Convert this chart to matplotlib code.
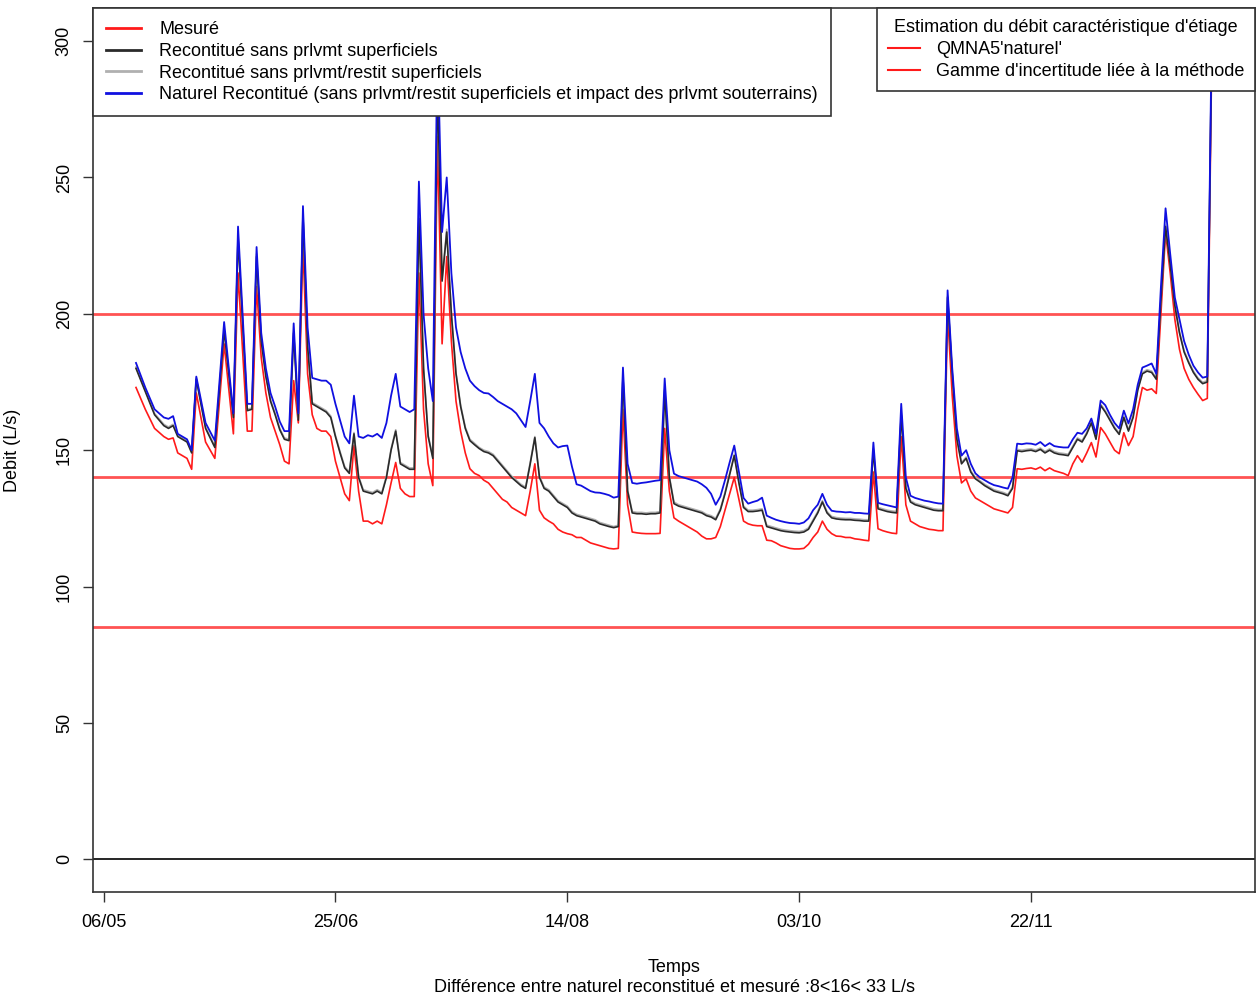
'''
Debit mesure / reconstitue / naturel, avec QMNA5 et gamme d'incertitude.
'''

import datetime as dt
import matplotlib
matplotlib.use("Agg")
import matplotlib.pyplot as plt
import matplotlib.dates as mdates
from matplotlib.lines import Line2D

plt.rcParams['font.family'] = ['Liberation Sans', 'DejaVu Sans']

# day 0 = 06/05
start = dt.datetime(2015, 5, 6)

days = ([7, 9, 11, 13, 14, 15, 16, 18, 19, 20,
         22, 24, 26, 28, 29, 31, 32, 33, 34, 35,
         36, 37, 38, 39, 40, 41, 42, 43]
        + list(range(44, 240)))

mesure = [173, 165, 158, 155, 154, 154.5, 149, 147, 143, 171,
          153, 147, 189, 156, 215, 157, 157, 210, 184, 171,
          162, 157, 152, 146, 145, 175.5, 160, 225,
          178, 163, 158, 157, 157, 155, 146, 140, 134, 131.5,
          151.7, 135, 124, 124, 123, 124, 123, 130, 138, 145.5,
          136, 134, 133, 133, 215, 165, 145, 137, 265, 189,
          221, 190, 168, 157, 149, 143.2, 141.5, 140.7, 139, 138,
          136, 134, 132, 131, 129, 128, 127, 126, 135, 145,
          128, 125.2, 124, 123, 121, 120, 119.4, 119, 118, 118,
          117, 116, 115.5, 115, 114.5, 114, 113.8, 114, 165, 130,
          120, 119.7, 119.5, 119.4, 119.4, 119.4, 119.5, 158, 135, 125.2,
          124, 123, 122, 121, 120, 118.5, 117.5, 117.5, 118, 122,
          128, 134, 140, 132, 124, 123, 122.5, 122.3, 122.3, 117,
          116.8, 116, 115, 114.5, 114, 113.8, 113.8, 114, 115.5, 118,
          120, 124, 121, 119.4, 118.5, 118.4, 118, 118, 117.5, 117.3,
          117, 116.8, 142, 121.2, 120.5, 120, 119.6, 119.4, 155, 130,
          124, 123, 122, 121.5, 121, 120.8, 120.5, 120.5, 200, 170,
          148, 138, 139.5, 135, 132.5, 131.5, 130.5, 129.5, 128.5, 128,
          127.5, 127, 129, 143.2, 143, 143.3, 143.5, 143, 143.8, 142.5,
          143.5, 142.5, 142, 141.5, 140.7, 145, 148, 145.6, 149, 152.8,
          147.5, 158.3, 156, 153, 150, 148.7, 156.4, 151.7, 155, 165,
          173, 172, 172.5, 170.8, 200, 230, 215, 198, 187, 180,
          176, 173, 170.5, 168.2, 169, 300]

sans_prlvmt = [180, 171.5, 163, 159, 158, 159, 155, 153, 149, 176,
               158, 151, 194, 162, 228, 164.5, 165, 221, 190, 177,
               168, 163, 157.5, 154, 153.5, 193, 161, 236,
               188, 167, 166, 165, 164, 162, 155, 149, 143.5, 141.5,
               156, 140, 135, 134.5, 134, 135, 134, 140, 150, 157,
               145, 144, 143, 143, 235, 180, 155, 147, 285, 212,
               230, 200, 178, 166, 158, 153.5, 152, 150.6, 149.5, 149,
               148, 146, 144, 142, 140, 138.5, 137, 136, 145, 154.6,
               140, 136, 135, 133, 131, 130, 129, 127, 126, 125.5,
               125, 124.5, 124, 123, 122.5, 122, 121.6, 122, 177, 135,
               127, 126.7, 126.7, 126.5, 126.7, 126.7, 127, 172, 140, 130.4,
               129.5, 129, 128.5, 128, 127.5, 127, 126, 125.5, 124.5, 128,
               134, 141, 148, 138, 129, 127.5, 127.5, 127.7, 128, 122,
               121.5, 121, 120.5, 120.2, 120, 119.8, 119.7, 120, 121, 124,
               127, 131, 127, 125.2, 124.8, 124.6, 124.5, 124.5, 124.3, 124.2,
               124, 124, 150, 128.5, 128, 127.5, 127.2, 127, 163, 136,
               131, 130, 129.5, 129, 128.5, 128, 127.8, 127.8, 206, 178,
               154, 145, 147, 142, 139.5, 138.3, 137, 136, 135, 134.5,
               134, 133.3, 136, 149.8, 149.5, 149.8, 150, 149.5, 150.3, 149,
               150, 149, 148.5, 148.3, 148, 151, 154, 153, 156, 160,
               154, 166.4, 164, 161, 158, 155.8, 162, 157, 162, 172,
               178, 179, 178.5, 176, 205, 232, 218, 203, 193, 186,
               182, 178.5, 176, 174.4, 175, 305]

sans_prlvmt_restit = [180.5, 172, 163.5, 159.5, 158.5, 159.5, 155.5, 153.5, 149.5, 176.5,
                      158.5, 151.5, 194.5, 162.5, 229, 165, 165.5, 222, 190.5, 177.5,
                      168.5, 163.5, 158, 154.5, 154, 193.5, 161.5, 237,
                      188.5, 167.5, 166.5, 165.5, 164.5, 162.5, 155.5, 149.5, 144, 142,
                      156.5, 140.5, 135.5, 135, 134.5, 135.5, 134.5, 140.5, 150.5, 157.5,
                      145.5, 144.5, 143.5, 143.5, 236, 180.5, 155.5, 147.5, 286, 213,
                      231, 200.5, 178.5, 166.5, 158.5, 154, 152.5, 151, 150, 149.5,
                      148.5, 146.5, 144.5, 142.5, 140.5, 139, 137.5, 136.5, 145.5, 155,
                      140.5, 136.5, 135.5, 133.5, 131.5, 130.5, 129.5, 127.5, 126.5, 126,
                      125.5, 125, 124.5, 123.5, 123, 122.5, 122, 122.5, 177.5, 135.5,
                      127.5, 127.2, 127.2, 127, 127.2, 127.2, 127.5, 172.5, 140.5, 131,
                      130, 129.5, 129, 128.5, 128, 127.5, 126.5, 126, 125, 128.5,
                      134.5, 141.5, 148.5, 138.5, 129.5, 128, 128, 128.2, 128.5, 122.5,
                      122, 121.5, 121, 120.7, 120.5, 120.3, 120.2, 120.5, 121.5, 124.5,
                      127.5, 131.5, 127.5, 125.7, 125.3, 125.1, 125, 125, 124.8, 124.7,
                      124.5, 124.5, 150.5, 129, 128.5, 128, 127.7, 127.5, 163.5, 136.5,
                      131.5, 130.5, 130, 129.5, 129, 128.5, 128.3, 128.3, 206.5, 178.5,
                      154.5, 145.5, 147.5, 142.5, 140, 138.8, 137.5, 136.5, 135.5, 135,
                      134.5, 133.8, 136.5, 150.3, 150, 150.3, 150.5, 150, 150.8, 149.5,
                      150.5, 149.5, 149, 148.8, 148.5, 151.5, 154.5, 153.5, 156.5, 160.5,
                      154.5, 166.9, 164.5, 161.5, 158.5, 156.3, 162.5, 157.5, 162.5, 172.5,
                      178.5, 179.5, 179, 176.5, 205.5, 232.5, 218.5, 203.5, 193.5, 186.5,
                      182.5, 179, 176.5, 174.9, 175.5, 305.5]

naturel = [182, 173, 165, 162, 161.5, 162.5, 156, 154, 150, 177,
           160, 153.5, 197, 163.5, 232, 167, 167, 224.5, 193, 180,
           171, 166, 160.5, 157, 157, 196.5, 163.5, 239.5,
           195, 176.5, 176, 175.5, 175.5, 174, 167, 161, 155, 152.5,
           170, 155, 154.5, 155.5, 155, 156, 154.5, 160, 170, 178,
           166, 165, 164, 165, 248.5, 200, 180, 168, 300, 230,
           250, 215, 195, 186, 180, 175.5, 173.5, 172, 171, 170.8,
           169.5, 168, 167, 166, 165, 163.5, 161, 158.5, 168, 178,
           160, 158, 155, 152.5, 151, 151.5, 151.7, 144, 137.5, 137,
           136, 135, 134.5, 134.4, 134, 133.5, 132.6, 133, 180.3, 145,
           138, 137.7, 138, 138.2, 138.5, 138.8, 139, 176.3, 150, 141.4,
           140.5, 140, 139.5, 139, 138.5, 137.5, 136.2, 134, 130, 133,
           139, 145.5, 151.7, 142, 132.5, 130.4, 131, 131.5, 132.6, 126,
           125.2, 124.5, 124, 123.6, 123.3, 123.2, 123, 123.5, 125, 128,
           130, 134, 130, 127.8, 127.5, 127.4, 127.2, 127.3, 127, 127,
           126.8, 126.7, 152.8, 130.7, 130.2, 129.8, 129.4, 129, 167, 140,
           133.3, 132.5, 132, 131.5, 131.2, 130.8, 130.5, 130.4, 208.6, 180,
           158, 148, 150, 145, 141.5, 140, 139, 138, 137.2, 136.8,
           136.3, 135.9, 140, 152.4, 152.2, 152.5, 152.4, 152, 153, 151.5,
           152.6, 151.5, 151.2, 151, 151, 154, 156.4, 156, 158, 161.6,
           156, 168.2, 166.5, 163, 160, 158, 164.5, 159.8, 165, 174,
           180.3, 181, 181.8, 178, 210, 238.7, 222, 206, 198, 190,
           185, 181, 178.5, 176.6, 177, 310]

qmna5 = 140
gamme = [85, 200]
tick_days = [0, 50, 100, 150, 200]

dates = [start + dt.timedelta(days=d) for d in days]

fig = plt.figure(figsize=(12.58, 9.99), dpi=100)
ax = fig.add_axes([0.0739, 0.1071, 0.9237, 0.8845])

red = '#ff1a1a'
ax.axhline(0, color='black', lw=1.2)
ax.axhline(qmna5, color=red, lw=2, alpha=0.75)
for g in gamme:
    ax.axhline(g, color=red, lw=2, alpha=0.75)

ax.plot(dates, mesure, color=red, lw=1.2)
ax.plot(dates, sans_prlvmt_restit, color='#b0b0b0', lw=1.2)
ax.plot(dates, sans_prlvmt, color='#2a2a2a', lw=1.2)
ax.plot(dates, naturel, color='#1010e0', lw=1.3)

# R style 4% padding
span = days[-1] - days[0]
ax.set_xlim(start + dt.timedelta(days=days[0] - 0.04 * span),
            start + dt.timedelta(days=days[-1] + 0.04 * span))
ax.set_ylim(-12, 312)

ax.set_xticks([start + dt.timedelta(days=d) for d in tick_days])
ax.xaxis.set_major_formatter(mdates.DateFormatter('%d/%m'))
ax.set_yticks([0, 50, 100, 150, 200, 250, 300])
ax.tick_params(axis='both', labelsize=13, length=7.5, width=1, color='#333333')
ax.tick_params(axis='x', pad=8)
ax.tick_params(axis='y', pad=7, labelrotation=90)
for lbl in ax.get_yticklabels():
    lbl.set_va('center')

for sp in ax.spines.values():
    sp.set_color('#333333')
    sp.set_linewidth(1.2)

ax.set_ylabel('Debit (L/s)', fontsize=13)
ax.yaxis.set_label_coords(-0.062, 0.5)

fig.text(0.536, 1 - 968 / 999, 'Temps', ha='center', va='center', fontsize=13)
fig.text(0.536, 1 - 988 / 999,
         'Différence entre naturel reconstitué et mesuré :8<16< 33 L/s',
         ha='center', va='center', fontsize=13)

# legends
h1 = [Line2D([], [], color=red, lw=2),
      Line2D([], [], color='#2a2a2a', lw=2),
      Line2D([], [], color='#b0b0b0', lw=2),
      Line2D([], [], color='#1010e0', lw=2)]
l1 = ['Mesuré',
      'Recontitué sans prlvmt superficiels',
      'Recontitué sans prlvmt/restit superficiels',
      'Naturel Recontitué (sans prlvmt/restit superficiels et impact des prlvmt souterrains)']
leg1 = ax.legend(h1, l1, loc='upper left', bbox_to_anchor=(0, 1), borderaxespad=0,
                 fancybox=False, framealpha=1, edgecolor='#333333', fontsize=13,
                 handlelength=1.95, handletextpad=1.0, labelspacing=0.26,
                 borderpad=0.72)
leg1.get_frame().set_linewidth(1.2)
ax.add_artist(leg1)

h2 = [Line2D([], [], color=red, lw=1.5), Line2D([], [], color=red, lw=1.5)]
l2 = ["QMNA5'naturel'", "Gamme d'incertitude liée à la méthode"]
leg2 = ax.legend(h2, l2, loc='upper right', bbox_to_anchor=(1, 1), borderaxespad=0,
                 title="Estimation du débit caractéristique d'étiage", title_fontsize=13,
                 fancybox=False, framealpha=1, edgecolor='#333333', fontsize=13,
                 handlelength=1.8, handletextpad=0.85, labelspacing=0.28,
                 borderpad=0.6)
leg2.get_frame().set_linewidth(1.2)

plt.savefig('out.png', dpi=100)
